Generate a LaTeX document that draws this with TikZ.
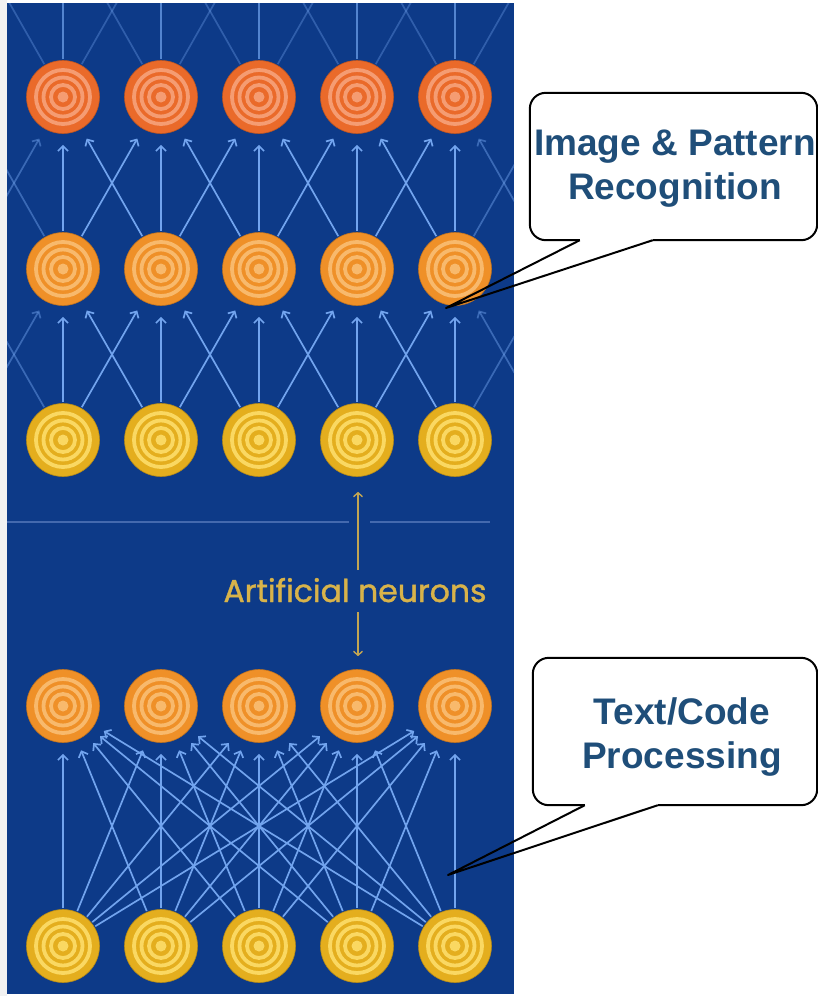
\documentclass[tikz,border=0pt]{standalone}
\usepackage{fontspec}
\setmainfont{Liberation Sans}
\newfontfamily\roundfont[FakeBold=1.2]{Poppins}
\usetikzlibrary{arrows.meta,positioning,calc}

\definecolor{panelblue}{HTML}{0D3A88}
\definecolor{stripgray}{HTML}{F2F2F2}
\definecolor{linkblue}{HTML}{72A4EE}
\definecolor{dividerblue}{HTML}{4469AE}
\definecolor{goldtxt}{HTML}{D8B34A}
\definecolor{goldline}{HTML}{C2A552}
\definecolor{calloutblue}{HTML}{1F4E79}
\definecolor{redbase}{HTML}{EA6A2A}
\definecolor{redring}{HTML}{F59C72}
\definecolor{orabase}{HTML}{EF9028}
\definecolor{oraring}{HTML}{F8B96C}
\definecolor{yelbase}{HTML}{E4AE1E}
\definecolor{yelring}{HTML}{FAD862}

\pgfdeclarelayer{bg}
\pgfdeclarelayer{links}
\pgfsetlayers{bg,links,main}

\tikzset{
  neuron/.style 2 args={circle, minimum size=73pt, inner sep=0pt,
    fill=#1, draw=#1!80!black, line width=0.6pt,
    path picture={
      \foreach \rad in {27,19.5,12}
        \draw[#2, line width=3.8pt] (path picture bounding box.center) circle (\rad pt);
      \fill[#2] (path picture bounding box.center) circle (5.5pt);
    }},
  synapse/.style={draw=linkblue, line width=1.7pt,
    -{Straight Barb[length=5pt,width=10pt]}, shorten >=11pt, shorten <=1pt},
  weak/.style={synapse, opacity=0.45},
  goldarrow/.style={draw=goldline, line width=1.4pt, -{Straight Barb[length=4pt,width=9pt]}},
  divider/.style={draw=dividerblue, line width=1.3pt},
  callbox/.style={fill=white, rounded corners=16pt, inner sep=0pt},
  callline/.style={draw=black, line width=2pt, line join=round},
  calltext/.style={text=calloutblue, font=\bfseries\fontsize{37}{44}\selectfont,
    align=center, inner sep=0pt}
}

\begin{document}
\begin{tikzpicture}[x=1pt, y=-1pt]
  \useasboundingbox (0,0) rectangle (818,996);
  \begin{pgfonlayer}{bg}
    \fill[white] (0,0) rectangle (818,996);
    \fill[stripgray] (0,0) rectangle (7,996);
    \fill[panelblue] (7,3) rectangle (514,994);
  \end{pgfonlayer}

  % upper panel: three sparse layers
  \foreach \i in {1,...,5} {
    \node[neuron={redbase}{redring}] (red\i) at ({63+98*(\i-1)},97) {};
    \node[neuron={orabase}{oraring}] (mid\i) at ({63+98*(\i-1)},269) {};
    \node[neuron={yelbase}{yelring}] (yel\i) at ({63+98*(\i-1)},440) {};
  }
  % neighbours just outside the panel
  \foreach \i/\cx in {0/-35,6/553} {
    \coordinate (red\i) at (\cx,97);
    \coordinate (mid\i) at (\cx,269);
    \coordinate (yel\i) at (\cx,440);
  }
  \foreach \i in {0,...,6}
    \coordinate (sky\i) at ({63+98*(\i-1)},-75);

  % lower panel: fully connected
  \foreach \i in {1,...,5} {
    \node[neuron={orabase}{oraring}] (fco\i) at ({63+98*(\i-1)},706) {};
    \node[neuron={yelbase}{yelring}] (fci\i) at ({63+98*(\i-1)},946) {};
  }

  % Edges
  \begin{pgfonlayer}{links}
    \begin{scope}
      \clip (7,3) rectangle (514,994);
      \foreach \lo/\up in {yel/mid, mid/red}
        \foreach \i in {0,...,6}
          \foreach \d in {-1,0,1} {
            \pgfmathtruncatemacro\j{\i+\d}
            \pgfmathtruncatemacro\isout{(\j<0)||(\j>6)||(((\i==0)||(\i==6))&&((\j==0)||(\j==6)))}
            \pgfmathtruncatemacro\isfaint{(\i==0)||(\i==6)||(\j==0)||(\j==6)}
            \ifnum\isout=0
              \ifnum\isfaint=1
                \draw[weak] (\lo\i) -- (\up\j);
              \else
                \draw[synapse] (\lo\i) -- (\up\j);
              \fi
            \fi
          }
      \foreach \i in {1,...,5}
        \foreach \d in {-1,0,1} {
          \pgfmathtruncatemacro\j{\i+\d}
          \ifnum\d=0
            \draw[synapse, -, opacity=0.7] (red\i) -- (sky\j);
          \else
            \draw[synapse, -, opacity=0.35] (red\i) -- (sky\j);
          \fi
        }
      \foreach \i in {1,...,5}
        \foreach \j in {1,...,5}
          \draw[synapse] (fci\i) -- (fco\j);
    \end{scope}
  \end{pgfonlayer}

  % marker between the panels
  \draw[divider] (7,522) -- (349,522);
  \draw[divider] (370,522) -- (490,522);
  \node[anchor=base, text=goldtxt, font=\roundfont\fontsize{31.5}{36}\selectfont, inner sep=0pt]
    (neurtag) at (355,602) {Artificial neurons};
  \coordinate (tagtop) at (358,570);
  \coordinate (tagbot) at (358,612);
  \draw[goldarrow, shorten >=15pt] (tagtop) -- (tagtop |- yel4.south);
  \draw[goldarrow, shorten >=13pt] (tagbot) -- (tagbot |- fco4.north);

  % callouts
  \node[callbox, minimum width=287pt, minimum height=147pt] (imgbox) at (673.5,166.5) {};
  \node[calltext] (imgtxt) at (675,169) {Image \& Pattern\\Recognition};
  \coordinate (imgtip) at (446,308);
  \draw[callline, rounded corners=16pt] ($(imgbox.south west)+(50,0)$) -- (imgbox.south west)
    -- (imgbox.north west) -- (imgbox.north east) -- (imgbox.south east) -- ($(imgbox.south west)+(123,0)$);
  \draw[callline] ($(imgbox.south west)+(50,0)$) -- (imgtip) -- ($(imgbox.south west)+(123,0)$);

  \node[callbox, minimum width=284pt, minimum height=147pt] (txtbox) at (675,731.5) {};
  \node[calltext] (txttxt) at (682,737) {Text/Code\\Processing};
  \coordinate (txttip) at (448,875);
  \draw[callline, rounded corners=16pt] ($(txtbox.south west)+(52,0)$) -- (txtbox.south west)
    -- (txtbox.north west) -- (txtbox.north east) -- (txtbox.south east) -- ($(txtbox.south west)+(125,0)$);
  \draw[callline] ($(txtbox.south west)+(52,0)$) -- (txttip) -- ($(txtbox.south west)+(125,0)$);
\end{tikzpicture}
\end{document}
